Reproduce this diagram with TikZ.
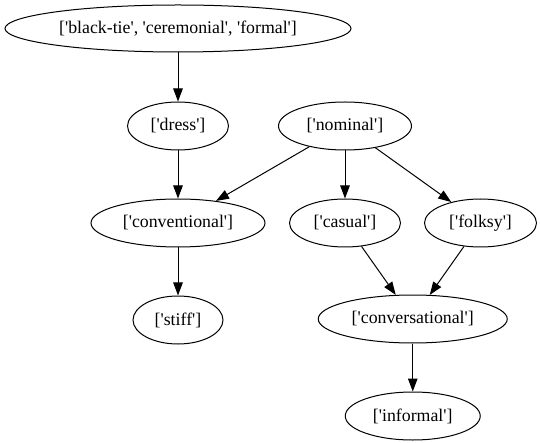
\documentclass[tikz,border=0pt]{standalone}
\usepackage{fontspec}
\setmainfont{Liberation Serif}[Ligatures=TeXOff]
\usetikzlibrary{shapes.geometric,arrows.meta,positioning,calc}

\begin{document}
\begin{tikzpicture}[
    word/.style={ellipse, draw=black, line width=1pt, inner sep=0pt, minimum height=48pt, font=\fontsize{17.8}{20}\selectfont},
    arrow/.style={-{Triangle[length=13pt, width=9.5pt]}, line width=1pt},
    node distance=48pt
]
\useasboundingbox (0,0) rectangle (540pt,-443pt);

% Nodes
\node (formal) [word, minimum width=346pt, minimum height=47pt] at (178pt,-28.5pt) {['black-tie', 'ceremonial', 'formal']};
\node (dress) [word, minimum width=101pt, below=49pt of formal] {['dress']};
\node (nominal) [word, minimum width=133pt, right=49pt of dress] {['nominal']};
\node (conventional) [word, minimum width=174pt, below=of dress] {['conventional']};
\node (casual) [word, minimum width=111pt, below=of nominal] {['casual']};
\node (folksy) [word, minimum width=112pt, right=23pt of casual] {['folksy']};
\node (stiff) [word, minimum width=90pt, below=of conventional] {['stiff']};
\node (conversational) [word, minimum width=189pt] at ($($(casual)!0.5!(folksy)$) + (0,-96pt)$) {['conversational']};
\node (informal) [word, minimum width=135pt, below=of conversational] {['informal']};

% Connections
\draw[arrow] (formal) -- (dress);
\draw[arrow] (dress) -- (conventional);
\draw[arrow] (nominal) -- (conventional);
\draw[arrow] (nominal) -- (casual);
\draw[arrow] (nominal) -- (folksy);
\draw[arrow] (conventional) -- (stiff);
\draw[arrow] (casual) -- (conversational);
\draw[arrow] (folksy) -- (conversational);
\draw[arrow] (conversational) -- (informal);

\end{tikzpicture}
\end{document}
